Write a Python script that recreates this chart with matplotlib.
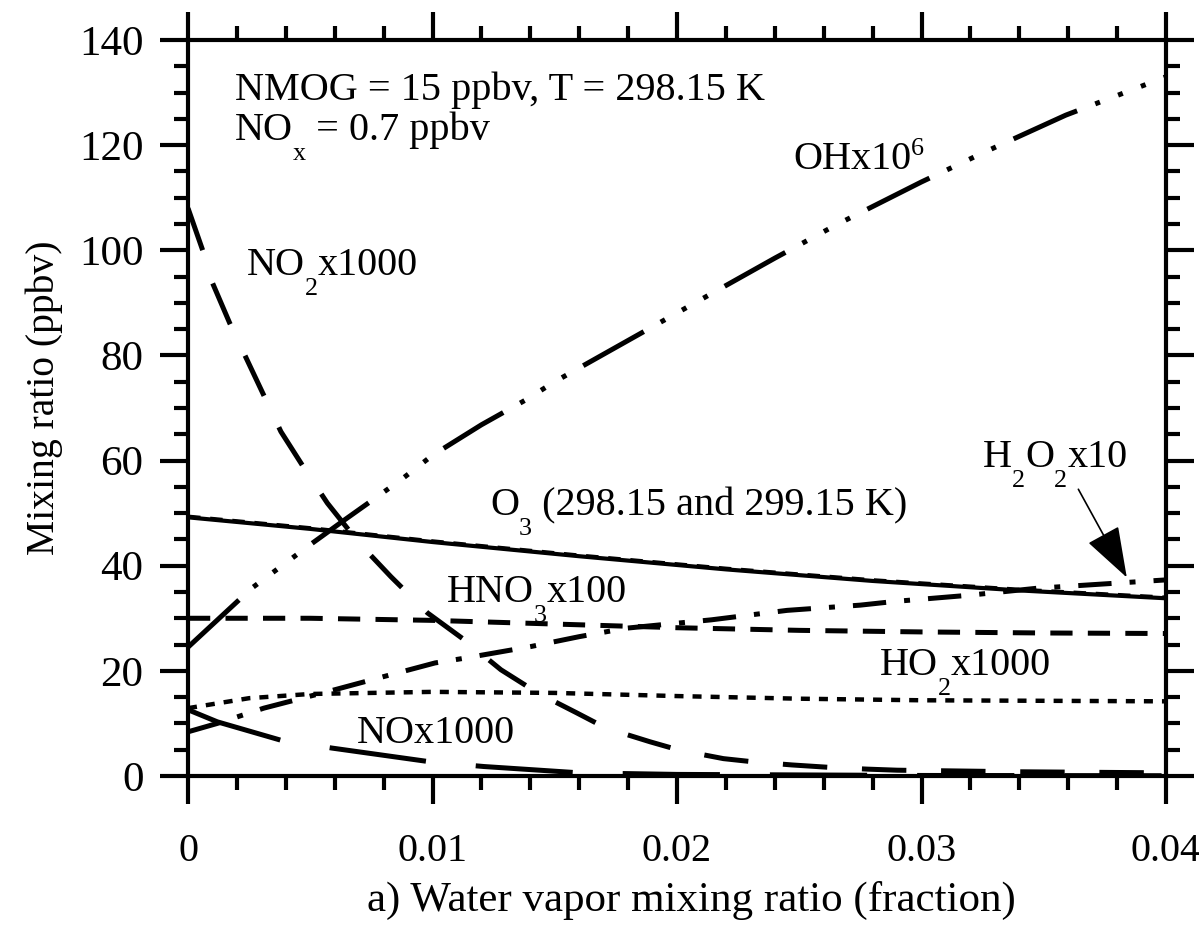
import matplotlib
matplotlib.use('Agg')
import matplotlib.pyplot as plt
from matplotlib.ticker import MultipleLocator

plt.rcParams['font.family'] = ['Liberation Serif', 'DejaVu Serif']
plt.rcParams['lines.scale_dashes'] = False

# values
o3_x = [0, 0.005, 0.01, 0.016, 0.022, 0.028, 0.034, 0.04]
o3_y = [49.2, 47.0, 44.5, 41.8, 39.3, 37.1, 35.3, 33.8]
o3b_y = [49.4, 47.2, 44.7, 42.0, 39.5, 37.3, 35.5, 34.0]

oh_x = [0, 0.0026, 0.005, 0.0064, 0.0087, 0.01, 0.012, 0.0138, 0.015,
        0.0202, 0.024, 0.0265, 0.03, 0.0325, 0.0359, 0.0386, 0.04]
oh_y = [24.5, 35.7, 44.0, 48.7, 56.3, 61.0, 66.8, 71.5, 75.0,
        88.6, 98.5, 104.8, 113.0, 118.5, 125.7, 130.5, 133.0]

no2_x = [0, 0.0006, 0.001, 0.0017, 0.0038, 0.0048, 0.0057, 0.007, 0.0083,
         0.0098, 0.0113, 0.0128, 0.0143, 0.0159, 0.0171, 0.0189, 0.0201,
         0.0219, 0.0231, 0.0247, 0.0262, 0.0278, 0.029, 0.034, 0.04]
no2_y = [108.0, 100.0, 93.8, 86.2, 65.5, 58.2, 51.9, 44.3, 37.9,
         31.0, 25.9, 20.2, 15.8, 12.0, 9.1, 6.5, 4.9,
         3.3, 2.7, 2.1, 1.65, 1.3, 1.1, 0.8, 0.6]

hno3_x = [0, 0.005, 0.01, 0.015, 0.02, 0.025, 0.03, 0.035, 0.04]
hno3_y = [30.0, 30.0, 29.6, 28.9, 28.2, 27.7, 27.4, 27.2, 27.1]

h2o2_x = [0, 0.0012, 0.0031, 0.006, 0.008, 0.0101, 0.0113, 0.014, 0.016,
          0.0179, 0.0214, 0.0245, 0.0275, 0.0289, 0.032, 0.0347, 0.0377, 0.04]
h2o2_y = [8.4, 10.0, 12.9, 16.4, 18.9, 21.5, 22.4, 24.6, 26.5,
          28.1, 29.7, 31.5, 32.5, 33.2, 34.4, 35.7, 36.6, 37.3]

ho2_x = [0, 0.0025, 0.005, 0.01, 0.015, 0.02, 0.025, 0.03, 0.04]
ho2_y = [12.9, 14.8, 15.6, 16.0, 15.8, 15.2, 14.7, 14.4, 14.2]

no_x = [0, 0.0012, 0.0038, 0.0059, 0.0099, 0.0121, 0.016, 0.02, 0.03, 0.04]
no_y = [12.6, 10.3, 6.8, 5.3, 2.7, 1.8, 0.6, 0.3, 0.1, 0.05]

xticks = [0, 0.01, 0.02, 0.03, 0.04]
xticklabels = ['0', '0.01', '0.02', '0.03', '0.04']
yticks = [0, 20, 40, 60, 80, 100, 120, 140]

fig = plt.figure(figsize=(11.99, 9.25), dpi=100)
ax = fig.add_axes([0.1568, 0.1611, 0.8157, 0.7957])

ax.plot(o3_x, o3_y, color='k', lw=3.0, linestyle='-')
ax.plot(o3_x, o3b_y, color='k', lw=2.5, dashes=(9, 7))
ax.plot(oh_x, oh_y, color='k', lw=3.6,
        dashes=(50, 14, 3.6, 14, 3.6, 14, 3.6, 14))
ax.plot(no2_x, no2_y, color='k', lw=3.6, dashes=(32, 25))
ax.plot(hno3_x, hno3_y, color='k', lw=3.6, dashes=(16, 11))
ax.plot(h2o2_x, h2o2_y, color='k', lw=3.6, dashes=(24, 13, 4.3, 13))
ax.plot(ho2_x, ho2_y, color='k', lw=3.2, dashes=(6.5, 6.5))
ax.plot(no_x, no_y, color='k', lw=3.6, dashes=(70, 36))

fs = 29


def label(x, y, parts):
    # parts: list of (string, 'n' | 'sub' | 'sup'); pieces are chained left to right
    t = ax.text(x, y, parts[0][0], fontsize=fs, va='baseline')
    level = 0.0
    for s, kind in parts[1:]:
        new = {'n': 0.0, 'sub': -0.4 * fs, 'sup': 0.45 * fs}[kind]
        size = fs if kind == 'n' else 0.65 * fs
        t = ax.annotate(s, xy=(1, 0), xycoords=t, xytext=(0, new - level),
                        textcoords='offset points', fontsize=size,
                        va='bottom', ha='left')
        level = new


label(0.00192, 128.6, [('NMOG = 15 ppbv, T = 298.15 K', 'n')])
label(0.00192, 121.0, [('NO', 'n'), ('x', 'sub'), (' = 0.7 ppbv', 'n')])
label(0.02474, 115.4, [('OHx10', 'n'), ('6', 'sup')])
label(0.00241, 95.3, [('NO', 'n'), ('2', 'sub'), ('x1000', 'n')])
label(0.01235, 49.6, [('O', 'n'), ('3', 'sub'), (' (298.15 and 299.15 K)', 'n')])
label(0.01059, 33.1, [('HNO', 'n'), ('3', 'sub'), ('x100', 'n')])
label(0.0283, 19.2, [('HO', 'n'), ('2', 'sub'), ('x1000', 'n')])
label(0.00691, 6.3, [('NOx1000', 'n')])
label(0.03252, 58.8, [('H', 'n'), ('2', 'sub'), ('O', 'n'), ('2', 'sub'), ('x10', 'n')])
ax.annotate('', xy=(0.03845, 37.3), xytext=(0.03636, 55.0),
            arrowprops=dict(arrowstyle='-|>,head_length=1.3,head_width=0.45',
                            lw=1.2, color='k', mutation_scale=25))

ax.set_xlim(0, 0.04)
ax.set_ylim(0, 140)
ax.set_xticks(xticks)
ax.set_xticklabels(xticklabels)
ax.set_yticks(yticks)
ax.xaxis.set_minor_locator(MultipleLocator(0.002))
ax.yaxis.set_minor_locator(MultipleLocator(5))
ax.tick_params(which='both', direction='out', top=True, right=True, width=3)
ax.tick_params(which='major', length=20)
ax.tick_params(axis='x', which='major', pad=21, labelsize=29)
ax.tick_params(axis='y', which='major', pad=12, labelsize=31)
ax.tick_params(which='minor', length=10)
for s in ax.spines.values():
    s.set_linewidth(3)

ax.set_xlabel('a) Water vapor mixing ratio (fraction)', fontsize=31)
ax.set_ylabel('Mixing ratio (ppbv)', fontsize=28.5)
ax.xaxis.set_label_coords(0.515, -0.143)
ax.yaxis.set_label_coords(-0.128, 0.5136)

plt.savefig('out.png', dpi=100)
